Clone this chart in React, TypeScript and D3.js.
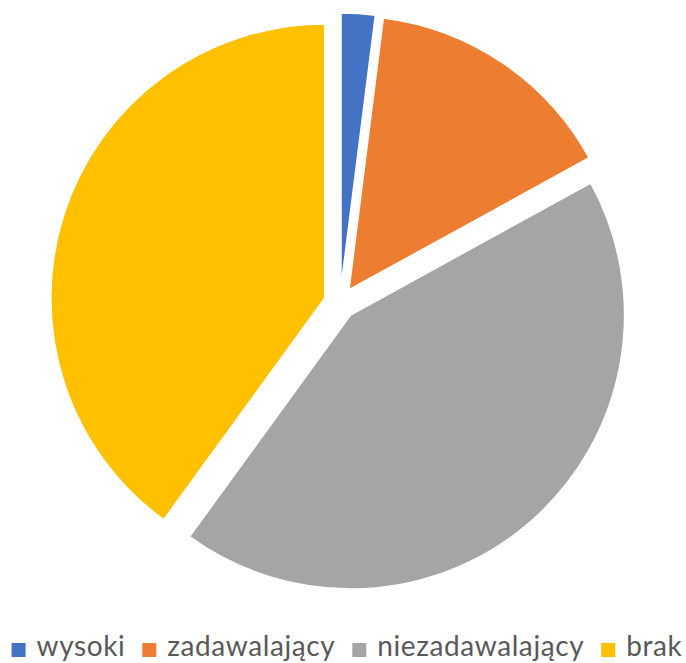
import React, { useEffect, useRef } from "react"
import * as d3 from "d3"

// data (percent)
const categories = ["wysoki", "zadawalający", "niezadawalający", "brak"]
const values = [2, 15, 43, 40]
const colors = ["#4472C4", "#ED7D31", "#A5A5A5", "#FFC000"]

const width = 686
const height = 663

export default function App() {
  const ref = useRef<SVGSVGElement>(null)

  useEffect(() => {
    const svg = d3.select(ref.current)
    svg.selectAll("*").remove()

    const cx = 340, cy = 303
    const radius = 274
    const explode = 16

    const pie = d3.pie<number>().sort(null).value(d => d)
    const arc = d3.arc<d3.PieArcDatum<number>>().innerRadius(0).outerRadius(radius)
    const arcs = pie(values)

    const g = svg.append("g").attr("transform", "translate(" + cx + "," + cy + ")")

    g.selectAll("path")
      .data(arcs)
      .enter().append("path")
      .attr("d", arc)
      .attr("fill", (d, i) => colors[i])
      .attr("stroke", "#fff")
      .attr("stroke-width", 1.5)
      .attr("transform", d => {
        const a = (d.startAngle + d.endAngle) / 2
        return "translate(" + explode * Math.sin(a) + "," + (-explode * Math.cos(a)) + ")"
      })

    // legend
    const legend = svg.append("g").attr("transform", "translate(0,656)")
    const items = legend.selectAll("g")
      .data(categories)
      .enter().append("g")

    items.append("rect")
      .attr("width", 14)
      .attr("height", 14)
      .attr("y", -13)
      .attr("fill", (d, i) => colors[i])

    const texts = items.append("text")
      .attr("x", 25)
      .attr("fill", "#595959")
      .style("font-family", "Lato, 'Open Sans', sans-serif")
      .style("font-size", "28px")
      .style("letter-spacing", "0.6px")
      .text(d => d)

    const widths: number[] = []
    texts.each(function () { widths.push((this as SVGTextElement).getComputedTextLength()) })
    const gap = 17
    const itemW = widths.map(w => 25 + w)
    const total = d3.sum(itemW) + gap * (itemW.length - 1)
    let x = 347 - total / 2
    items.attr("transform", (d, i) => {
      const t = "translate(" + x + ",0)"
      x += itemW[i] + gap
      return t
    })
  }, [])

  return (
    <div style={{ position: "absolute", left: 0, top: 0 }}>
      <svg ref={ref} width={width} height={height}></svg>
    </div>
  )
}
